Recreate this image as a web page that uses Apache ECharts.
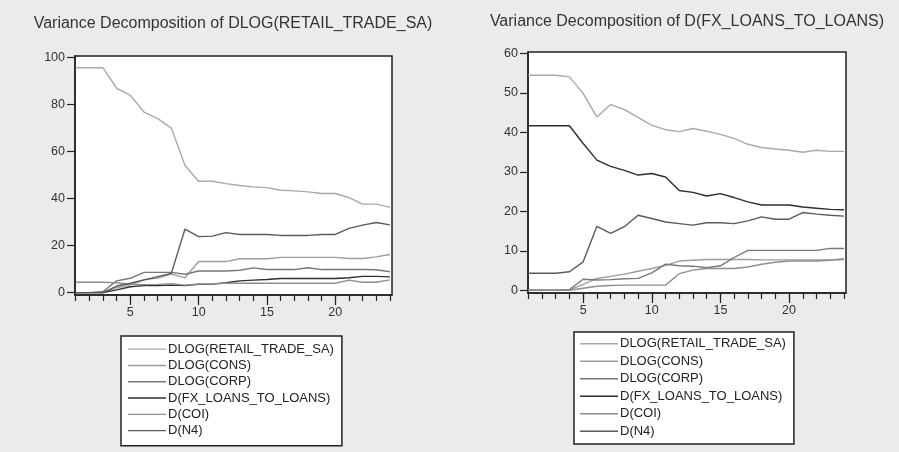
<!DOCTYPE html>
<html>
<head>
<meta charset="utf-8">
<script src="https://cdn.jsdelivr.net/npm/echarts@6/dist/echarts.min.js"></script>
<style>
html, body { margin: 0; padding: 0; background: #ebebeb; }
#main { width: 899px; height: 452px; }
</style>
</head>
<body>
<div id="main"></div>
<script>
// forecast horizon
var periods = [1, 2, 3, 4, 5, 6, 7, 8, 9, 10, 11, 12, 13, 14, 15, 16, 17, 18, 19, 20, 21, 22, 23, 24];
var seriesNames = ['DLOG(RETAIL_TRADE_SA)', 'DLOG(CONS)', 'DLOG(CORP)', 'D(FX_LOANS_TO_LOANS)', 'D(COI)', 'D(N4)'];
var xLabelTicks = [5, 10, 15, 20];
var leftYTicks = [0, 20, 40, 60, 80, 100];
var rightYTicks = [0, 10, 20, 30, 40, 50, 60];

// Variance Decomposition of DLOG(RETAIL_TRADE_SA)
var leftRetail = [95.5, 95.5, 95.5, 86.8, 83.8, 76.7, 73.9, 69.9, 54.0, 47.3, 47.3, 46.3, 45.5, 44.9, 44.6, 43.5, 43.2, 42.8, 42.1, 42.1, 40.4, 37.6, 37.6, 36.2];
var leftCons = [0, 0, 0, 2.1, 3.3, 5.4, 6.2, 7.9, 6.3, 13.2, 13.2, 13.2, 14.4, 14.4, 14.4, 15.0, 15.0, 15.0, 15.0, 15.0, 14.5, 14.5, 15.2, 16.2];
var leftCorp = [0, 0, 0.5, 5.0, 6.1, 8.6, 8.6, 8.6, 7.8, 9.2, 9.2, 9.2, 9.5, 10.5, 9.8, 9.8, 9.8, 10.6, 9.8, 9.8, 9.8, 9.8, 9.7, 8.9];
var leftFx = [0, 0, 0, 1.2, 2.5, 3.0, 3.0, 3.2, 3.0, 3.5, 3.6, 4.2, 5.0, 5.3, 5.6, 6.0, 6.0, 6.0, 6.0, 6.0, 6.3, 6.9, 6.9, 6.7];
var leftCoi = [4.4, 4.4, 4.4, 4.2, 3.6, 3.4, 3.5, 3.8, 3.2, 3.7, 3.8, 4.0, 4.0, 4.0, 4.0, 4.0, 4.0, 4.0, 4.0, 4.0, 5.3, 4.4, 4.4, 5.4];
var leftN4 = [0, 0, 0, 2.8, 4.0, 5.4, 6.8, 8.2, 27.0, 23.8, 24.0, 25.5, 24.7, 24.7, 24.7, 24.3, 24.3, 24.3, 24.7, 24.7, 27.3, 28.7, 29.8, 28.8];

// Variance Decomposition of D(FX_LOANS_TO_LOANS)
var rightRetail = [54.5, 54.5, 54.5, 54.1, 49.9, 43.9, 47.1, 45.8, 43.8, 41.8, 40.7, 40.2, 41.0, 40.3, 39.5, 38.5, 37.0, 36.2, 35.8, 35.5, 35.0, 35.5, 35.2, 35.2];
var rightCons = [0, 0, 0, 0.1, 1.5, 3.0, 3.5, 4.1, 4.8, 5.5, 6.3, 7.4, 7.6, 7.8, 7.8, 7.8, 7.8, 7.7, 7.7, 7.7, 7.7, 7.7, 7.7, 7.7];
var rightCorp = [0, 0, 0, 0.2, 2.8, 2.6, 2.7, 2.9, 3.0, 4.4, 6.6, 6.2, 6.1, 5.7, 6.2, 8.3, 10.1, 10.1, 10.1, 10.1, 10.1, 10.1, 10.6, 10.6];
var rightFx = [41.7, 41.7, 41.7, 41.7, 37.2, 33.0, 31.4, 30.4, 29.2, 29.6, 28.7, 25.3, 24.8, 23.9, 24.5, 23.5, 22.4, 21.6, 21.6, 21.6, 21.1, 20.8, 20.5, 20.4];
var rightCoi = [0, 0, 0, 0, 0.5, 1.0, 1.2, 1.3, 1.3, 1.3, 1.3, 4.2, 5.1, 5.5, 5.5, 5.5, 5.9, 6.6, 7.1, 7.4, 7.4, 7.4, 7.6, 8.0];
var rightN4 = [4.3, 4.3, 4.3, 4.7, 7.2, 16.2, 14.4, 16.1, 19.0, 18.2, 17.3, 16.9, 16.5, 17.1, 17.1, 16.9, 17.6, 18.6, 18.0, 18.0, 19.7, 19.3, 19.0, 18.8];

var lineColors = ['#a9a9a9', '#9d9d9d', '#777777', '#2e2e2e', '#8e8e8e', '#5a5a5a'];
var font = 'Liberation Sans, Arial, sans-serif';

var chart = echarts.init(document.getElementById('main'), null, { renderer: 'canvas' });

function buildSeries(list, gridIdx) {
  return list.map(function (vals, i) {
    return {
      type: 'line',
      name: seriesNames[i],
      xAxisIndex: gridIdx * 2,
      yAxisIndex: gridIdx,
      data: periods.map(function (p, k) { return [p, vals[k]]; }),
      symbol: 'none',
      lineStyle: { width: 1.4, color: lineColors[i] },
      itemStyle: { color: lineColors[i] }
    };
  });
}

function xAxes(gridIdx, min, max) {
  return [
    {
      type: 'value', gridIndex: gridIdx, min: min, max: max,
      splitLine: { show: false },
      axisLine: { show: true, onZero: false, lineStyle: { color: '#222', width: 1.5 } },
      axisTick: { show: true, inside: false, length: 6, customValues: periods, lineStyle: { color: '#222', width: 1.2 } },
      axisLabel: { customValues: xLabelTicks, margin: 11, fontSize: 12.5, color: '#333', fontFamily: font }
    },
    {
      type: 'value', gridIndex: gridIdx, min: min, max: max, position: 'bottom',
      splitLine: { show: false },
      axisLine: { show: false, onZero: false },
      axisTick: { show: true, inside: false, length: 10, customValues: xLabelTicks, lineStyle: { color: '#222', width: 1.2 } },
      axisLabel: { show: false }
    }
  ];
}

function yAxis(gridIdx, min, max, ticks) {
  return {
    type: 'value', gridIndex: gridIdx, min: min, max: max,
    splitLine: { show: false },
    axisLine: { show: true, onZero: false, lineStyle: { color: '#222', width: 1.5 } },
    axisTick: { show: true, length: 8, customValues: ticks, lineStyle: { color: '#222', width: 1.2 } },
    axisLabel: { customValues: ticks, margin: 10, fontSize: 12.5, color: '#333', fontFamily: font }
  };
}

function legend(left, top, padding, lineHeight) {
  return {
    orient: 'vertical', left: left, top: top, padding: padding,
    data: seriesNames,
    icon: 'rect',
    backgroundColor: '#fff', borderColor: '#222', borderWidth: 1.5, borderRadius: 0,
    itemWidth: 38, itemHeight: 1.4, itemGap: 0,
    selectedMode: false,
    textStyle: { fontSize: 13, lineHeight: lineHeight, color: '#222', fontFamily: font, padding: [0, 0, 0, -3] }
  };
}

var option = {
  backgroundColor: '#ebebeb',
  animation: false,
  title: [
    { text: 'Variance Decomposition of DLOG(RETAIL_TRADE_SA)', left: 233, top: 16, textAlign: 'center', padding: 0,
      textStyle: { fontSize: 16, fontWeight: 'normal', color: '#333', fontFamily: font } },
    { text: 'Variance Decomposition of D(FX_LOANS_TO_LOANS)', left: 687, top: 14, textAlign: 'center', padding: 0,
      textStyle: { fontSize: 16, fontWeight: 'normal', color: '#333', fontFamily: font } }
  ],
  grid: [
    { left: 75, top: 56, width: 317, height: 239, show: true, backgroundColor: '#fff', borderColor: '#222', borderWidth: 1.5 },
    { left: 528, top: 52, width: 318, height: 241, show: true, backgroundColor: '#fff', borderColor: '#222', borderWidth: 1.5 }
  ],
  xAxis: xAxes(0, 0.95, 24.15).concat(xAxes(1, 0.98, 24.15)),
  yAxis: [yAxis(0, -1, 100.5, leftYTicks), yAxis(1, -0.7, 60.4, rightYTicks)],
  legend: [legend(121, 336, [5, 8, 7, 7], 16.3), legend(574, 332, [3, 8, 4, 6], 17.5)],
  series: buildSeries([leftRetail, leftCons, leftCorp, leftFx, leftCoi, leftN4], 0)
    .concat(buildSeries([rightRetail, rightCons, rightCorp, rightFx, rightCoi, rightN4], 1))
};

chart.setOption(option);
</script>
</body>
</html>
